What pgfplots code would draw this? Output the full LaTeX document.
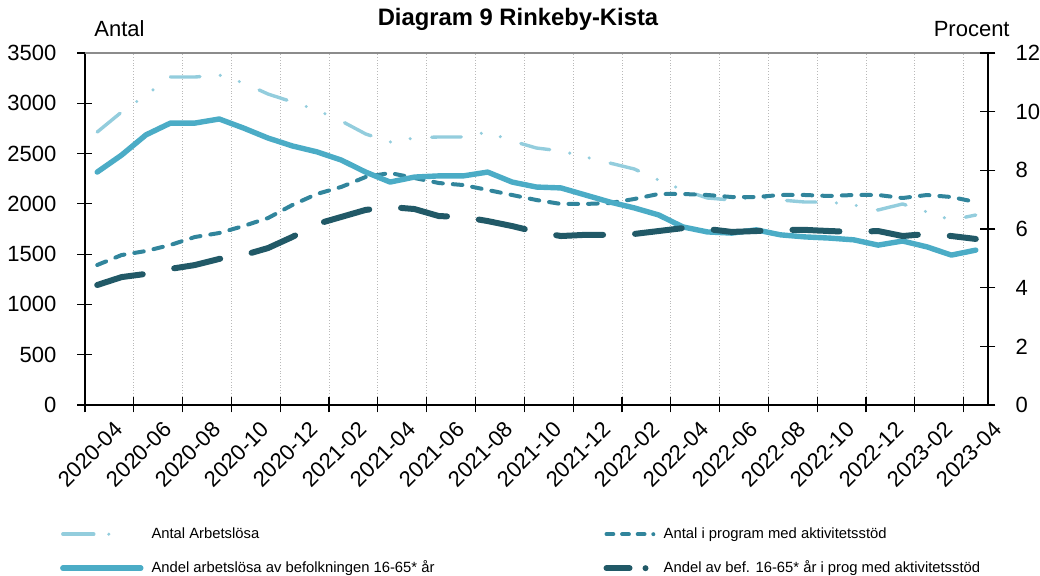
\documentclass[border=0pt]{standalone}
\usepackage{pgfplots}
\usepackage{pgfplotstable}
\pgfplotsset{compat=1.18}
\usepackage{fontspec}
\setmainfont{Liberation Sans}

\definecolor{cLight}{HTML}{93CDDD}
\definecolor{cSolid}{HTML}{4BACC6}
\definecolor{cDash}{HTML}{31859C}
\definecolor{cDark}{HTML}{215967}

\pgfplotstableread{
x antal program
0 2714 1392
1 2913 1491
2 3082 1531
3 3261 1591
4 3261 1670
5 3281 1710
6 3202 1780
7 3092 1859
8 3013 1989
9 2933 2098
10 2824 2168
11 2695 2267
12 2615 2307
13 2655 2257
14 2665 2207
15 2665 2187
16 2714 2138
17 2625 2088
18 2555 2038
19 2526 1999
20 2466 1999
21 2406 2008
22 2347 2048
23 2237 2098
24 2138 2098
25 2058 2088
26 2038 2068
27 2068 2068
28 2038 2088
29 2018 2088
30 2018 2078
31 1989 2088
32 1939 2088
33 1999 2058
34 1919 2088
35 1839 2068
36 1889 2018
}\leftdata

\pgfplotstableread{
x andel andelprog
0 7.94 4.09
1 8.52 4.36
2 9.21 4.47
3 9.61 4.64
4 9.61 4.77
5 9.75 4.98
6 9.44 5.11
7 9.10 5.35
8 8.83 5.73
9 8.63 6.17
10 8.35 6.41
11 7.94 6.65
12 7.60 6.75
13 7.77 6.68
14 7.81 6.44
15 7.81 6.41
16 7.94 6.27
17 7.60 6.10
18 7.43 5.90
19 7.40 5.76
20 7.16 5.80
21 6.92 5.80
22 6.72 5.83
23 6.48 5.93
24 6.07 6.03
25 5.90 6.00
26 5.86 5.90
27 5.97 5.93
28 5.80 5.97
29 5.73 5.97
30 5.69 5.93
31 5.63 5.90
32 5.45 5.93
33 5.59 5.76
34 5.39 5.83
35 5.11 5.76
36 5.28 5.66
}\rightdata

\tikzset{
  lightS/.style={cLight, line width=1.7pt, line cap=round, line join=round,
    dash pattern=on 14.8pt off 10.2pt on 0pt off 10pt on 0pt off 10.8pt},
  dashS/.style={cDash, line width=2pt, line cap=round, line join=round,
    dash pattern=on 4.8pt off 5pt},
  solidS/.style={cSolid, line width=2.7pt, line cap=round, line join=round, solid},
  darkS/.style={cDark, line width=3pt, line cap=round, line join=round,
    dash pattern=on 23.5pt off 16pt},
}

\pgfplotsset{
  base/.style={
    at={(42.5pt,85.5pt)}, anchor=south west,
    scale only axis, width=451.5pt, height=176pt,
    xmin=-0.5, xmax=36.5,
    tick align=center,
    major tick length=7.5pt,
    tick style={black, line width=0.6pt},
    axis line style={black, line width=0.8pt},
    /pgf/number format/assume math mode=true,
    /pgf/number format/1000 sep={},
    ticklabel style={font=\fontsize{11}{13}\selectfont},
  },
  legLight/.style={legend image code/.code={\draw[lightS, dash pattern=on 15.5pt off 7.5pt on 0pt off 20pt] (0pt,0pt) -- (23.6pt,0pt);}},
  legDash/.style={legend image code/.code={\draw[dashS, dash pattern=on 3.4pt off 4.4pt on 3.4pt off 4.4pt on 3.4pt off 4.4pt on 0pt off 20pt] (0pt,0pt) -- (23.6pt,0pt);}},
  legSolid/.style={legend image code/.code={\draw[solidS] (0pt,0pt) -- (39pt,0pt);}},
  legDark/.style={legend image code/.code={\draw[darkS, dash pattern=on 11.5pt off 8pt on 0pt off 20pt] (0pt,0pt) -- (19.6pt,0pt);}},
}

\begin{document}
\begin{tikzpicture}[x=1pt,y=1pt]
\path[use as bounding box] (0,0) rectangle (520,288);

\begin{axis}[base,
  axis x line*=bottom, axis y line*=left,
  ymin=0, ymax=3500, ytick={0,500,...,3500},
  yticklabel style={xshift=-7pt},
  xtick={-0.5,1.5,...,35.5},
  xticklabels={2020-04,2020-06,2020-08,2020-10,2020-12,2021-02,2021-04,2021-06,2021-08,2021-10,2021-12,2022-02,2022-04,2022-06,2022-08,2022-10,2022-12,2023-02,2023-04},
  xticklabel style={rotate=45, anchor=north east, inner sep=0pt, xshift=7.5pt, yshift=-12.5pt},
  xmajorgrids=true,
  major grid style={densely dotted, gray!55, line width=0.4pt},
]
\draw[gray!90, line width=0.8pt] (rel axis cs:0,1) -- (rel axis cs:1,1);
\addplot[lightS] table[x=x, y=antal] {\leftdata};
\addplot[dashS] table[x=x, y=program] {\leftdata};
\end{axis}

\begin{axis}[base,
  axis y line*=right, axis x line=none,
  ymin=0, ymax=12, ytick={0,2,...,12},
  yticklabel style={xshift=6.5pt},
  legend columns=2,
  legend cell align=left,
  legend style={at={(-0.028,-0.346)}, anchor=north west, draw=none, fill=none,
    font=\fontsize{7.4}{9}\selectfont, column sep=4pt, row sep=10pt, inner sep=0pt,
    nodes={inner sep=0pt, text height=5.5pt, text depth=1.5pt}},
]
\addlegendimage{lightS, legLight}
\addlegendentry{\makebox[222pt][l]{Antal Arbetslösa}}
\addlegendimage{dashS, legDash}
\addlegendentry{Antal i program med aktivitetsstöd}
\addplot[solidS, legSolid] table[x=x, y=andel] {\rightdata};
\addlegendentry{\makebox[222pt][l]{Andel arbetslösa av befolkningen 16-65* år}}
\addplot[darkS, legDark] table[x=x, y=andelprog] {\rightdata};
\addlegendentry{Andel av bef. 16-65* år i prog med aktivitetsstöd}
\end{axis}

\node[anchor=base, font=\bfseries\fontsize{11.9}{14}\selectfont] at (259,275) {Diagram 9 Rinkeby-Kista};
\node[anchor=base west, inner sep=0pt, font=\fontsize{11}{13}\selectfont] at (47,269.5) {Antal};
\node[anchor=base east, inner sep=0pt, font=\fontsize{11}{13}\selectfont] at (505,269.5) {Procent};
\end{tikzpicture}
\end{document}
